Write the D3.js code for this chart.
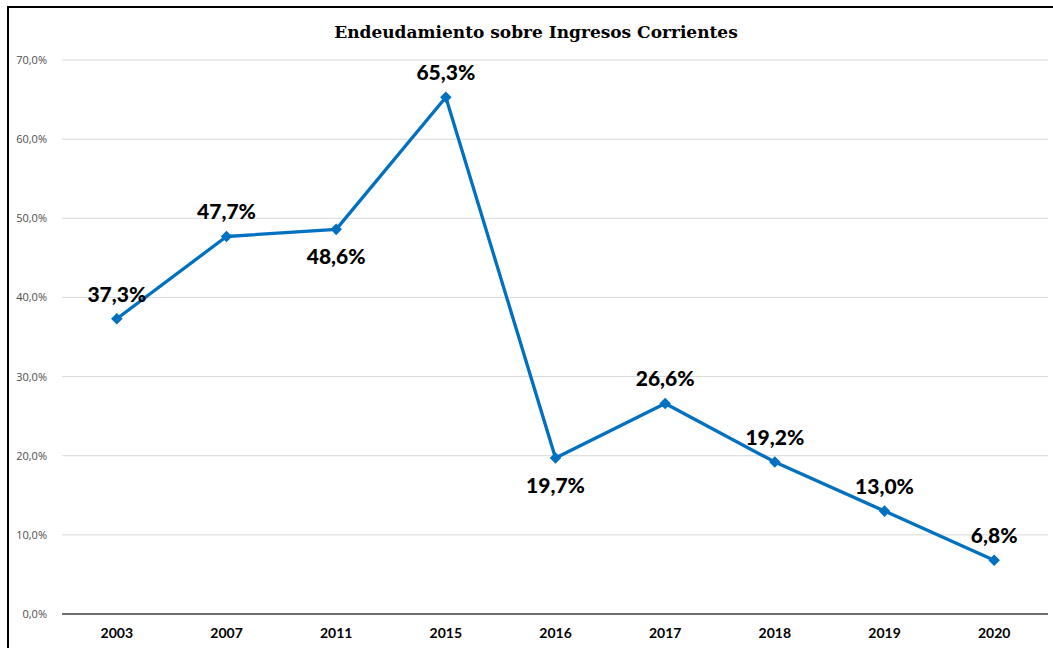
<!DOCTYPE html>
<head>
  <meta charset="UTF-8" />
  <script src="https://d3js.org/d3.v7.min.js"></script>
  <style>
    body { margin: 0; background: #fff; }
  </style>
</head>
<body>
  <script>
    // datos
    var years = ["2003", "2007", "2011", "2015", "2016", "2017", "2018", "2019", "2020"];
    var ratios = [37.3, 47.7, 48.6, 65.3, 19.7, 26.6, 19.2, 13.0, 6.8];
    // posicion de la etiqueta: arriba o abajo del punto
    var labelPos = ["up", "up", "down", "up", "down", "up", "up", "up", "up"];
    var yTicks = [0, 10, 20, 30, 40, 50, 60, 70];

    var width = 1053, height = 648;
    var margin = { left: 62, right: 4, top: 60, bottom: 34 };

    var svg = d3.select("body").append("svg")
      .attr("width", width)
      .attr("height", height);

    // marco
    svg.append("path")
      .attr("d", "M8,648 L8,7 L1053,7")
      .attr("fill", "none")
      .attr("stroke", "#000")
      .attr("stroke-width", 2);

    var x = d3.scaleBand()
      .domain(years)
      .range([margin.left, width - margin.right]);

    var y = d3.scaleLinear()
      .domain([0, 70])
      .range([height - margin.bottom, margin.top]);

    var fmt = function (v) { return v.toFixed(1).replace(".", ",") + "%"; };

    // lineas de rejilla
    svg.append("g")
      .selectAll("line")
      .data(yTicks.slice(1))
      .enter().append("line")
      .attr("x1", margin.left).attr("x2", width - margin.right - 1)
      .attr("y1", function (d) { return y(d); })
      .attr("y2", function (d) { return y(d); })
      .attr("stroke", "#d9d9d9")
      .attr("stroke-width", 1);

    // eje y
    var yAxis = svg.append("g")
      .attr("transform", "translate(" + (margin.left - 12) + ",0)")
      .call(d3.axisLeft(y).tickValues(yTicks).tickSize(0).tickFormat(fmt));
    yAxis.select(".domain").remove();
    yAxis.selectAll("text")
      .attr("fill", "#4d4d4d")
      .style("font-family", "'Open Sans', sans-serif")
      .style("font-size", "11px");

    // eje x
    var xAxis = svg.append("g")
      .attr("transform", "translate(0," + y(0) + ")")
      .call(d3.axisBottom(x).tickSize(0).tickPadding(14));
    xAxis.select(".domain")
      .attr("stroke", "#404040")
      .attr("stroke-width", 1.3)
      .attr("d", "M" + margin.left + ",0H" + (width - margin.right - 1));
    xAxis.selectAll("text")
      .attr("fill", "#000")
      .style("font-family", "Lato, sans-serif")
      .style("font-weight", "bold")
      .style("font-size", "14px");

    // titulo
    svg.append("text")
      .attr("x", 536)
      .attr("y", 38)
      .attr("text-anchor", "middle")
      .style("font-family", "'DejaVu Serif', serif")
      .style("font-weight", "bold")
      .style("font-size", "17px")
      .text("Endeudamiento sobre Ingresos Corrientes");

    var cx = function (d, i) { return x(years[i]) + x.bandwidth() / 2; };

    var line = d3.line()
      .x(function (d, i) { return cx(d, i); })
      .y(function (d) { return y(d); });

    svg.append("path")
      .datum(ratios)
      .attr("d", line)
      .attr("fill", "none")
      .attr("stroke", "#0070C0")
      .attr("stroke-width", 3.3)
      .attr("stroke-linejoin", "round");

    svg.append("g")
      .selectAll("path")
      .data(ratios)
      .enter().append("path")
      .attr("d", d3.symbol().type(d3.symbolDiamond2).size(85))
      .attr("transform", function (d, i) { return "translate(" + cx(d, i) + "," + y(d) + ")"; })
      .attr("fill", "#0070C0");

    // etiquetas de datos
    svg.append("g")
      .selectAll("text")
      .data(ratios)
      .enter().append("text")
      .attr("x", function (d, i) { return cx(d, i); })
      .attr("y", function (d, i) { return y(d) + (labelPos[i] == "up" ? -17 : 35); })
      .attr("text-anchor", "middle")
      .style("font-family", "Lato, sans-serif")
      .style("font-weight", "900")
      .style("font-size", "21px")
      .attr("fill", "#000")
      .text(fmt);
  </script>
</body>
